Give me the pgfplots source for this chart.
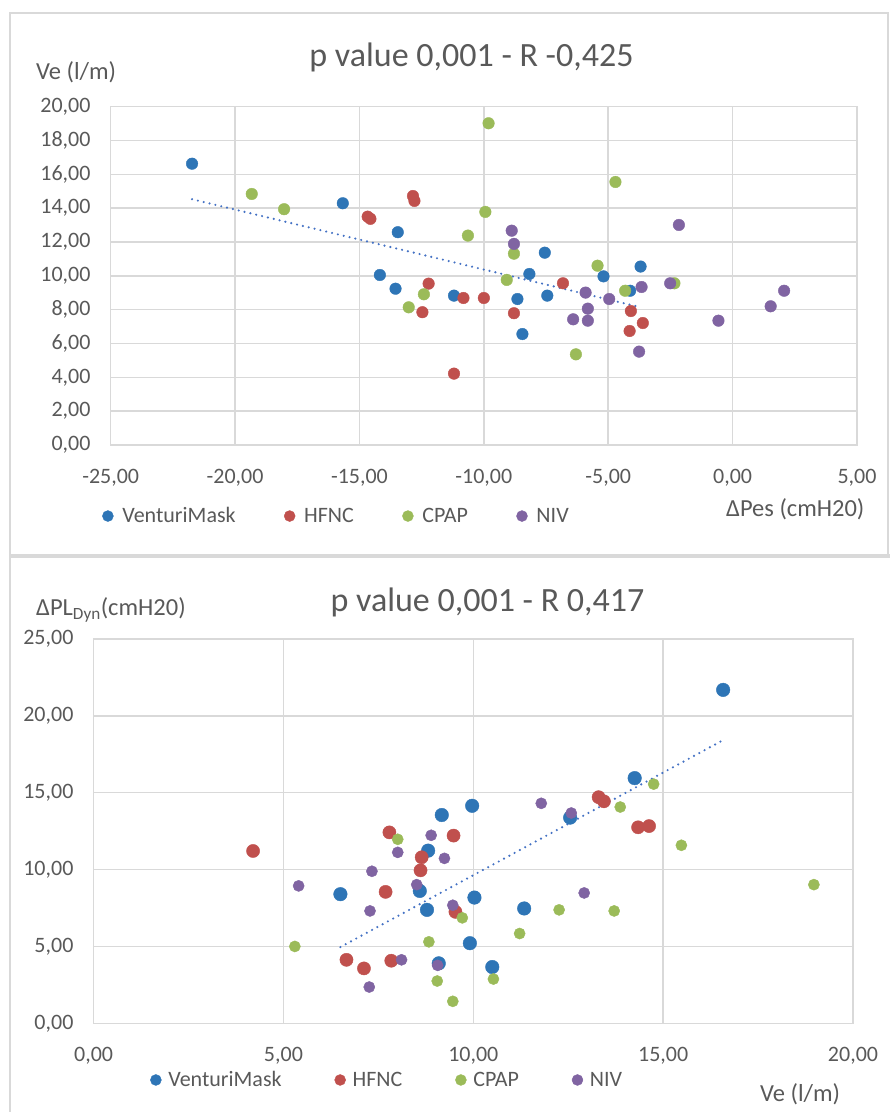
\documentclass[border=0pt]{standalone}
\usepackage{pgfplots}
\pgfplotsset{compat=1.18}
\usepackage{fontspec}
\setmainfont{Carlito}
\definecolor{txt}{HTML}{595959}
\definecolor{gridc}{HTML}{D9D9D9}
\definecolor{cblue}{HTML}{2E75B6}
\definecolor{cred}{HTML}{C0504D}
\definecolor{cgreen}{HTML}{9BBB59}
\definecolor{cpurple}{HTML}{8064A2}
\definecolor{trend}{HTML}{4472C4}

\pgfplotsset{
  exstyle/.style={
    scale only axis,
    axis line style={draw=gridc, line width=1.5pt},
    grid=major,
    major grid style={draw=gridc, line width=1.5pt},
    major tick length=0pt,
    tick label style={font=\fontsize{22}{26}\selectfont, text=txt},
    yticklabel style={anchor=east, inner sep=0pt, xshift=-20pt},
    xticklabel style={anchor=north, inner sep=0pt, yshift=-24pt},
    legend style={draw=none, fill=none, inner sep=0pt, font=\fontsize{22}{26}\selectfont, text=txt, legend columns=-1},
    legend image code/.code={\draw[#1, mark size=5.5pt] plot coordinates {(0pt,0pt)};},
  },
  trendst/.style={trend, line width=2.4pt, line cap=round, dash pattern=on 0pt off 6pt},
}

\begin{document}
\begin{tikzpicture}
\path[use as bounding box] (0pt,0pt) rectangle (890pt,1112pt);
% panel frames
\draw[gridc, line width=1.5pt] (10pt,556pt) -- (10pt,1099pt) -- (888pt,1099pt) -- (888pt,556pt);
\draw[gridc, line width=1.5pt] (10pt,0pt) -- (10pt,556pt);
\draw[color=gridc, line width=4pt] (10pt,556pt) -- (890pt,556pt);

% ---------------- TOP CHART ----------------
\begin{axis}[exstyle,
  at={(110.7pt,667pt)}, anchor=south west,
  width=746.3pt, height=338.3pt,
  xmin=-25, xmax=5, ymin=0, ymax=20,
  xtick={-25,-20,-15,-10,-5,0,5},
  xticklabels={{-25,00},{-20,00},{-15,00},{-10,00},{-5,00},{0,00},{5,00}},
  ytick={0,2,4,6,8,10,12,14,16,18,20},
  yticklabels={{0,00},{2,00},{4,00},{6,00},{8,00},{10,00},{12,00},{14,00},{16,00},{18,00},{20,00}},
  legend style={at={(-0.0114,-0.21)}, anchor=west,
    /tikz/every odd column/.append style={column sep=7pt},
    /tikz/every even column/.append style={column sep=46.5pt}},
]
\addplot[only marks, mark=*, mark size=5.8pt, color=cblue] coordinates {
(-21.73,16.63) (-15.67,14.29) (-13.46,12.58) (-14.18,10.05) (-13.55,9.24) (-11.20,8.83) (-8.17,10.11)
(-7.55,11.37) (-5.19,9.97) (-3.70,10.55) (-4.12,9.12) (-8.65,8.63) (-7.45,8.83) (-8.45,6.56)};
\addlegendentry{VenturiMask}
\addplot[only marks, mark=*, mark size=5.8pt, color=cred] coordinates {
(-14.67,13.50) (-14.56,13.37) (-12.85,14.72) (-12.79,14.43) (-12.22,9.54) (-12.47,7.85) (-10.82,8.69)
(-10.00,8.69) (-11.20,4.22) (-6.82,9.56) (-8.79,7.79) (-4.09,7.92) (-3.61,7.21) (-4.14,6.74)};
\addlegendentry{HFNC}
\addplot[only marks, mark=*, mark size=5.8pt, color=cgreen] coordinates {
(-19.33,14.84) (-18.03,13.94) (-9.81,19.02) (-9.94,13.78) (-10.64,12.38) (-12.41,8.91) (-13.02,8.14)
(-4.71,15.55) (-8.79,11.31) (-5.43,10.60) (-9.08,9.76) (-2.34,9.56) (-4.32,9.12) (-6.30,5.36)};
\addlegendentry{CPAP}
\addplot[only marks, mark=*, mark size=5.8pt, color=cpurple] coordinates {
(-8.88,12.67) (-8.79,11.89) (-2.16,13.01) (-2.51,9.56) (-3.66,9.34) (-5.91,9.01) (-4.96,8.63)
(2.07,9.12) (1.53,8.20) (-5.82,8.06) (-6.41,7.43) (-5.82,7.35) (-0.57,7.35) (-3.76,5.52)};
\addlegendentry{NIV}
\addplot[trendst, forget plot] coordinates {(-21.73,14.53) (-3.70,8.14)};
\end{axis}

\node[anchor=base, font=\fontsize{34}{40}\selectfont, text=txt] at (471.5pt,1045.3pt) {p value 0,001 - R -0,425};
\node[anchor=base west, inner sep=0pt, font=\fontsize{24.5}{28}\selectfont, text=txt] at (36pt,1032pt) {Ve (l/m)};
\node[anchor=base west, inner sep=0pt, font=\fontsize{24.5}{28}\selectfont, text=txt] at (726pt,595pt) {ΔPes (cmH20)};

% ---------------- BOTTOM CHART ----------------
\begin{axis}[exstyle,
  at={(93.6pt,88.7pt)}, anchor=south west,
  width=759.4pt, height=384.3pt,
  xmin=0, xmax=20, ymin=0, ymax=25,
  xtick={0,5,10,15,20},
  xticklabels={{0,00},{5,00},{10,00},{15,00},{20,00}},
  ytick={0,5,10,15,20,25},
  yticklabels={{0,00},{5,00},{10,00},{15,00},{20,00},{25,00}},
  legend style={at={(0.0745,-0.1475)}, anchor=west,
    /tikz/every odd column/.append style={column sep=5pt},
    /tikz/every even column/.append style={column sep=51pt}},
]
\addplot[only marks, mark=*, mark size=6.8pt, color=cblue] coordinates {
(16.58,21.69) (14.25,15.95) (12.55,13.38) (9.97,14.15) (9.17,13.55) (8.81,11.23) (10.03,8.18)
(11.34,7.47) (9.91,5.21) (10.50,3.66) (9.09,3.90) (8.59,8.61) (8.78,7.38) (6.50,8.40)};
\addlegendentry{VenturiMask}
\addplot[only marks, mark=*, mark size=6.6pt, color=cred] coordinates {
(4.20,11.21) (6.66,4.13) (7.12,3.57) (7.69,8.55) (7.79,12.42) (7.84,4.07) (8.64,10.80)
(8.61,9.95) (9.48,12.21) (9.53,7.25) (13.30,14.71) (13.44,14.44) (14.34,12.75) (14.63,12.83)};
\addlegendentry{HFNC}
\addplot[only marks, mark=*, mark size=5.6pt, color=cgreen] coordinates {
(5.30,5.00) (8.01,11.97) (9.71,6.86) (9.05,2.75) (9.46,1.43) (8.83,5.30) (10.53,2.88)
(11.22,5.84) (12.26,7.38) (14.75,15.56) (13.87,14.07) (15.48,11.58) (13.71,7.31) (18.97,9.02)};
\addlegendentry{CPAP}
\addplot[only marks, mark=*, mark size=5.6pt, color=cpurple] coordinates {
(5.40,8.94) (7.26,2.36) (7.28,7.31) (7.33,9.89) (8.01,11.12) (8.11,4.13) (8.51,9.02)
(8.89,12.23) (9.24,10.73) (9.46,7.68) (9.06,3.77) (11.79,14.31) (12.58,13.68) (12.92,8.48)};
\addlegendentry{NIV}
\addplot[trendst, forget plot] coordinates {(6.50,4.96) (16.58,18.42)};
\end{axis}

\node[anchor=base, font=\fontsize{34}{40}\selectfont, text=txt] at (487.5pt,500pt) {p value 0,001 - R 0,417};
\node[anchor=base west, inner sep=0pt, font=\fontsize{24.5}{28}\selectfont, text=txt] at (36pt,496pt) {ΔPL\textsubscript{Dyn}(cmH20)};
\node[anchor=base west, inner sep=0pt, font=\fontsize{24.5}{28}\selectfont, text=txt] at (760pt,10pt) {Ve (l/m)};
\end{tikzpicture}
\end{document}
